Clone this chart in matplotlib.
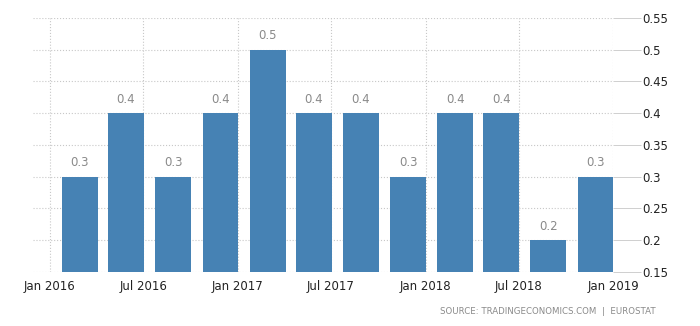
import matplotlib.pyplot as plt
import matplotlib.dates as mdates
import numpy as np

# quarterly change, bars dated near the end of each quarter
dates = np.array(['2016-02-28', '2016-05-28', '2016-08-28', '2016-11-28',
                  '2017-02-28', '2017-05-28', '2017-08-28', '2017-11-28',
                  '2018-02-28', '2018-05-28', '2018-08-28', '2018-11-28'], dtype='datetime64[D]')
values = [0.3, 0.4, 0.3, 0.4, 0.5, 0.4, 0.4, 0.3, 0.4, 0.4, 0.2, 0.3]
tick_dates = np.array(['2016-01-01', '2016-07-01', '2017-01-01', '2017-07-01',
                       '2018-01-01', '2018-07-01', '2019-01-01'], dtype='datetime64[D]')
tick_labels = ['Jan 2016', 'Jul 2016', 'Jan 2017', 'Jul 2017', 'Jan 2018', 'Jul 2018', 'Jan 2019']
yticks = [0.15, 0.2, 0.25, 0.3, 0.35, 0.4, 0.45, 0.5, 0.55]

bar_color = '#4682b4'
grid_color = '#c8c8c8'

fig = plt.figure(figsize=(7, 3.26), dpi=100)
ax = fig.add_axes([0.047, 0.166, 0.829, 0.779])

xd = mdates.date2num(dates)
ax.bar(xd, values, width=70, color=bar_color, zorder=3)
for x, v in zip(xd, values):
    ax.text(x, v + 0.012, f'{v:g}', ha='center', va='bottom', fontsize=8.5, color='#8a8a8a')

ax.set_xlim(mdates.date2num(np.datetime64('2016-01-01')) - 33, mdates.date2num(np.datetime64('2019-01-01')))
ax.set_ylim(0.15, 0.55)
ax.set_xticks(mdates.date2num(tick_dates))
ax.set_xticklabels(tick_labels)
ax.set_yticks(yticks)
ax.set_yticklabels([f'{t:g}' for t in yticks])
ax.yaxis.tick_right()

ax.grid(True, color=grid_color, linestyle=':', linewidth=0.8, zorder=0)
for s in ax.spines.values():
    s.set_visible(False)
ax.tick_params(axis='y', length=20, color=grid_color, width=0.6, pad=1, labelsize=8.5, labelcolor='#222222')
ax.tick_params(axis='x', length=0, pad=6, labelsize=8.5, labelcolor='#222222')

fig.text(0.937, 0.045, 'SOURCE: TRADINGECONOMICS.COM  |  EUROSTAT', ha='right', va='center',
         fontsize=6.2, color='#8a8a8a')

fig.savefig('out.png', dpi=100)
